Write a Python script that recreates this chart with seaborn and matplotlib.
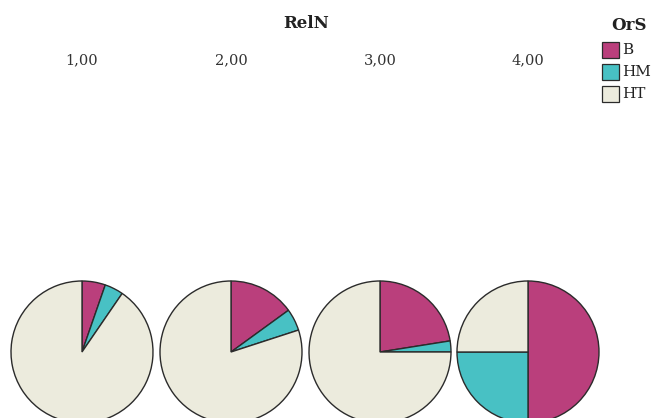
import matplotlib.pyplot as plt
import seaborn as sns
from matplotlib.patches import Rectangle

# data (counts per RelN group)
rel_levels = ['1,00', '2,00', '3,00', '4,00']
ors_labels = ['B', 'HM', 'HT']
b_counts = [5, 3, 9, 2]
hm_counts = [4, 1, 1, 1]
ht_counts = [85, 16, 30, 1]

colors = ['#BA3F7C', '#48C1C4', '#ECEBDD']

sns.set_theme(style='white')
plt.rcParams['font.family'] = ['DejaVu Serif']

W, H = 653, 418
fig = plt.figure(figsize=(W / 100, H / 100), dpi=100)
ax = fig.add_axes([0, 0, 1, 1])

# pie layout (pixels, y measured from bottom)
centers_x = [82, 231, 380, 528]
center_y = H - 352
radius = 71

for i, lvl in enumerate(rel_levels):
    vals = [b_counts[i], hm_counts[i], ht_counts[i]]
    ax.pie(vals, colors=colors, startangle=90, counterclock=False,
           center=(centers_x[i], center_y), radius=radius,
           wedgeprops=dict(edgecolor='#2b2b2b', linewidth=1.0), frame=True)
    ax.text(centers_x[i], H - 60, lvl, ha='center', va='center',
            fontsize=10.5, color='#333333')

ax.set_xlim(0, W)
ax.set_ylim(0, H)
ax.set_aspect('equal')
ax.axis('off')

ax.text(306, H - 23, 'RelN', ha='center', va='center', fontsize=12,
        fontweight='bold', color='#222222')

# legend, drawn by hand to match the box layout
ax.text(629, H - 26, 'OrS', ha='center', va='center', fontsize=12,
        fontweight='bold', color='#222222')
row_tops = [42, 64, 86]
for lab, c, top in zip(ors_labels, colors, row_tops):
    ax.add_patch(Rectangle((602, H - top - 16), 17, 16, facecolor=c,
                           edgecolor='#2b2b2b', linewidth=0.9))
    ax.text(622, H - top - 8, lab, ha='left', va='center', fontsize=11,
            color='#222222')

fig.savefig('out.png', dpi=100)
